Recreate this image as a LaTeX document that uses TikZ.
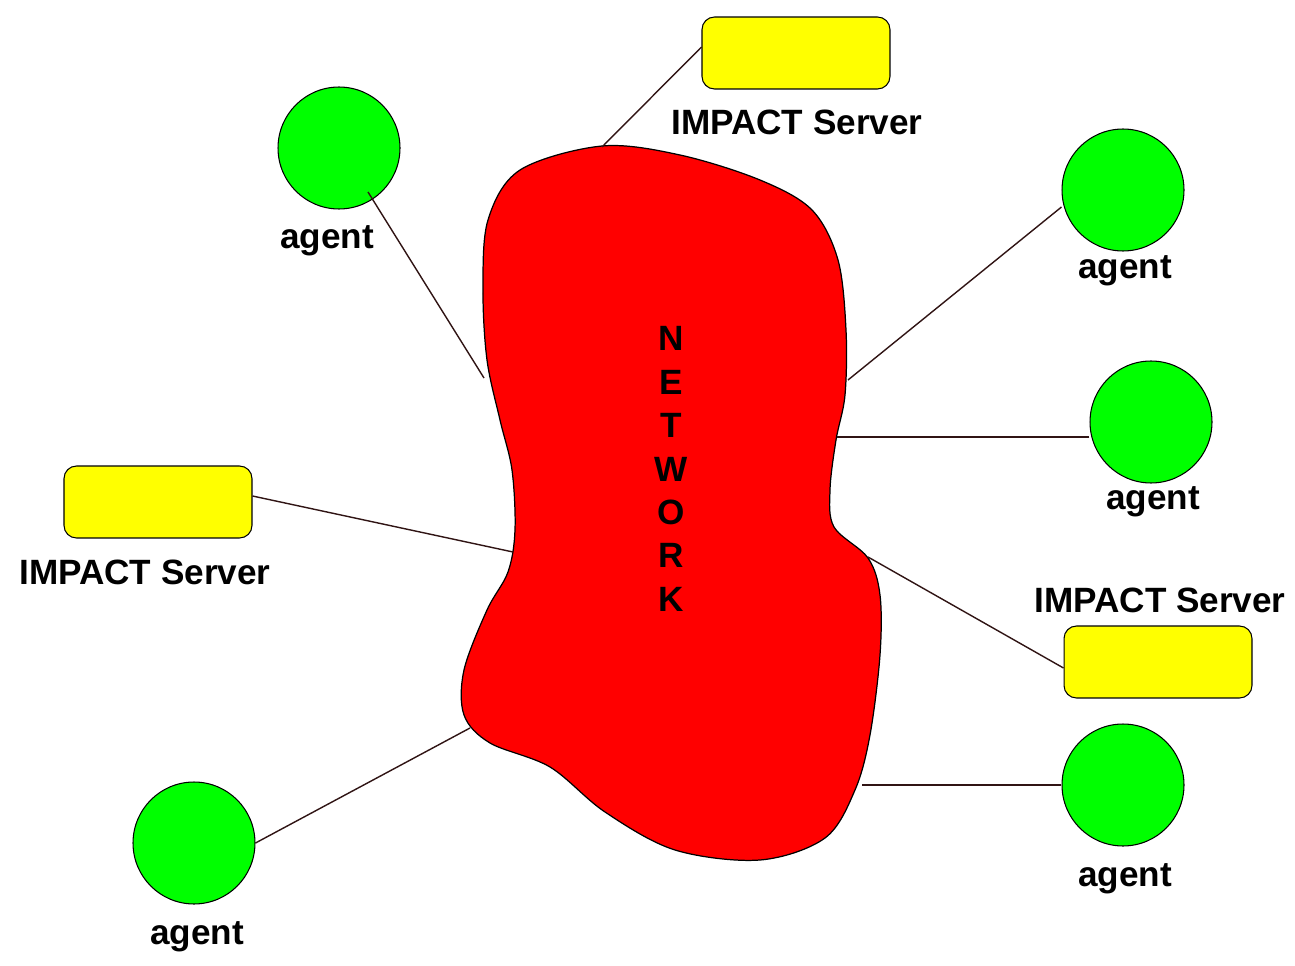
\documentclass[tikz,border=0pt]{standalone}
\usepackage{fontspec}
\setmainfont{Liberation Sans}
\definecolor{linkcol}{HTML}{301414}
\begin{document}
\begin{tikzpicture}[x=0.02cm,y=-0.02cm,
  agentnode/.style={circle,draw=black,line width=0.6pt,fill={rgb,255:red,0;green,255;blue,0},minimum size=2.44cm,inner sep=0pt},
  servernode/.style={rectangle,rounded corners=0.25cm,draw=black,line width=0.6pt,fill={rgb,255:red,255;green,255;blue,0},minimum width=3.76cm,minimum height=1.44cm,inner sep=0pt},
  lbl/.style={font=\bfseries\fontsize{20}{23}\selectfont,inner sep=0pt},
  link/.style={draw=linkcol,line width=0.8pt}]
\useasboundingbox (0,0) rectangle (1295,966);
% network blob
\draw[fill={rgb,255:red,255;green,0;blue,0},draw=black,line width=0.7pt]
  plot[smooth cycle,tension=0.55] coordinates {
  (602,146) (680,155) (760,180) (812,210) (838,260) (846,330) (845,395) (836,440)
  (830,490) (834,527) (868,558) (880,595) (880,655) (870,735) (855,790) (825,838)
  (760,860) (675,850) (605,812) (550,767) (490,743) (464,715) (464,670) (487,610)
  (508,572) (515,530) (512,470) (500,420) (487,360) (483,290) (488,220) (520,170)};
\node[lbl,align=center,font=\bfseries\fontsize{20}{24.7}\selectfont] (net) at (671,469) {N\\E\\T\\W\\O\\R\\K};
% attach points on the network
\coordinate (nTop) at (602,147);
\coordinate (nTL) at (484,378);
\coordinate (nR1) at (848,380);
\coordinate (nR2) at (837,437);
\coordinate (nL) at (513,552);
\coordinate (nRS) at (868,557);
\coordinate (nBL) at (470,728);
\coordinate (nBR) at (862,785);
% agents
\node[agentnode] (a1) at (339,148) {};
\node[agentnode] (a2) at (1123,190) {};
\node[agentnode] (a3) at (1151,422) {};
\node[agentnode] (a4) at (1123,785) {};
\node[agentnode] (a5) at (194,843) {};
\node[lbl] (la1) at (327,241) {agent};
\node[lbl] (la2) at (1125,271) {agent};
\node[lbl] (la3) at (1153,502) {agent};
\node[lbl] (la4) at (1125,879) {agent};
\node[lbl] (la5) at (197,937) {agent};
% servers
\node[servernode] (s1) at (796,53) {};
\node[servernode] (s2) at (158,502) {};
\node[servernode] (s3) at (1158,662) {};
\node[lbl] (ls1) at (797,122) {IMPACT Server};
\node[lbl] (ls2) at (145,572) {IMPACT Server};
\node[lbl] (ls3) at (1160,600) {IMPACT Server};
% connectors
\coordinate (a1in) at (368,192);
\draw[link] (s1.west |- 0,47) -- (nTop);
\draw[link] (a1in) -- (nTL);
\draw[link] (a2.west |- 0,207) -- (nR1);
\draw[link] (a3.west |- 0,437) -- (nR2);
\draw[link] (s2.east |- 0,496) -- (nL);
\draw[link] (s3.west |- 0,668) -- (nRS);
\draw[link] (a5.east) -- (nBL);
\draw[link] (a4.west) -- (nBR);
\end{tikzpicture}
\end{document}
